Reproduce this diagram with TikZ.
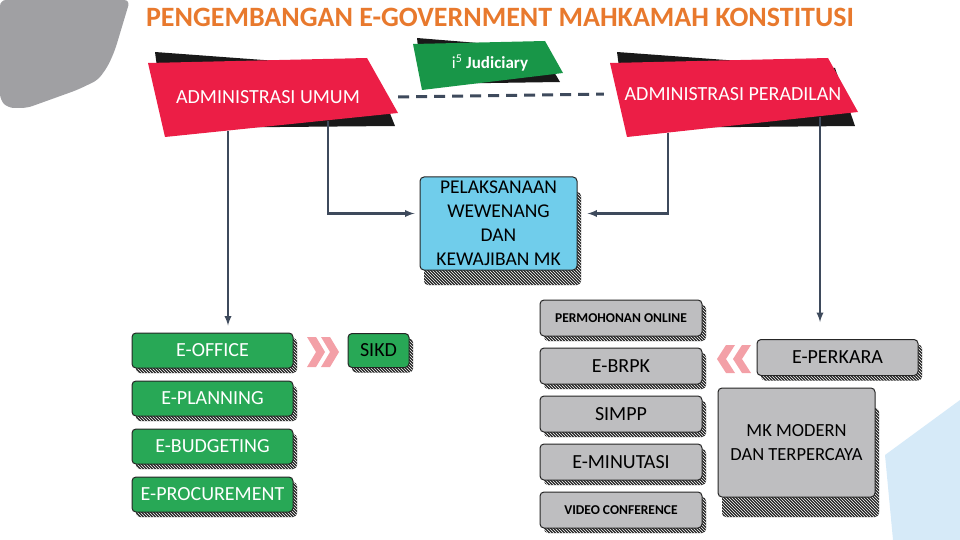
\documentclass[tikz,border=0pt]{standalone}
\usepackage{fontspec}
\setmainfont{Carlito}
\usetikzlibrary{positioning, arrows.meta, patterns}

\definecolor{titleorange}{RGB}{232,121,45}
\definecolor{bannerred}{RGB}{236,30,70}
\definecolor{bannergreen}{RGB}{24,150,72}
\definecolor{boxgreen}{RGB}{40,168,86}
\definecolor{boxblue}{RGB}{112,205,235}
\definecolor{boxgray}{RGB}{190,190,192}
\definecolor{connslate}{RGB}{62,74,92}
\definecolor{chevpink}{RGB}{238,120,130}
\definecolor{cornergray}{RGB}{160,160,163}
\definecolor{skyblue}{RGB}{214,234,248}

\begin{document}
\begin{tikzpicture}[x=1pt, y=-1pt,
    slab/.style={rectangle, rounded corners=4pt, draw=black!85, line width=1pt, inner sep=2pt,
        preaction={fill=black!85, transform canvas={xshift=4pt, yshift=-#1}},
        preaction={pattern=north west lines, pattern color=white, transform canvas={xshift=4pt, yshift=-#1}}},
    slab/.default=5pt,
    gbox/.style={slab, fill=boxgreen, text=white, minimum width=161pt, minimum height=35pt, font=\fontsize{20}{22}\selectfont},
    graybox/.style={slab=#1, fill=boxgray, minimum width=162pt, minimum height=36pt, font=\fontsize{20}{22}\selectfont},
    graybox/.default=5pt,
    banner/.style={text=white, minimum height=70pt, inner sep=0pt, font=\fontsize{20}{22}\selectfont},
    conn/.style={-latex, draw=connslate, line width=2.2pt},
    dashline/.style={draw=connslate, line width=3pt, dash pattern=on 11pt off 7pt},
    chev/.style={fill=chevpink, opacity=0.7},
    ]
    \useasboundingbox (0,0) rectangle (960,540);

    % Backdrop shapes.
    \fill[cornergray, rounded corners=6pt] (0,0) -- (130,0) -- (115,50) -- (108,66) -- (98,80) -- (77,90) -- (27,108) -- (8,108) -- (0,100) -- cycle;
    \fill[skyblue] (885,455) -- (960,400) -- (960,540) -- (893,540) -- cycle;

    \node[font=\bfseries\fontsize{28}{28}\selectfont, text=titleorange] (title) at (500,17) {PENGEMBANGAN E-GOVERNMENT MAHKAMAH KONSTITUSI};

    % Banners.
    \fill[black!90] (155,52) -- (372,68) -- (395,126) -- (165,128) -- cycle;
    \fill[bannerred] (148,63) -- (367,58) -- (398,113) -- (165,137) -- cycle;
    \fill[black!90] (617,52) -- (835,68) -- (855,126) -- (627,128) -- cycle;
    \fill[bannerred] (610,63) -- (828,58) -- (858,112) -- (627,137) -- cycle;
    \fill[black!90] (417,38) -- (540,48) -- (560,82) -- (422,84) -- cycle;
    \fill[bannergreen] (413,44) -- (545,41) -- (563,73) -- (422,90) -- cycle;

    \node[banner, minimum width=260pt] (umum) at (268,97) {ADMINISTRASI UMUM};
    \node[banner, minimum width=242pt] (peradilan) at (733,94) {ADMINISTRASI PERADILAN};
    \node[text=white, font=\fontsize{17}{17}\selectfont] (judiciary) at (490,63) {i\textsuperscript{5} \textbf{Judiciary}};

    \draw[dashline, shorten >=8pt] (umum.east) -- (peradilan.west);

    % Centre box.
    \node[slab=15pt, fill=boxblue, minimum width=157pt, minimum height=93pt, align=center, font=\fontsize{19.5}{24}\selectfont] (pelaksanaan) at (498.5,223.5) {PELAKSANAAN\\WEWENANG\\DAN\\KEWAJIBAN MK};

    % General administration stack.
    \node[gbox] (eoffice) at (212.5,350.5) {E-OFFICE};
    \node[gbox, below=12pt of eoffice] (eplanning) {E-PLANNING};
    \node[gbox, below=12pt of eplanning] (ebudgeting) {E-BUDGETING};
    \node[gbox, below=12pt of ebudgeting] (eprocurement) {E-PROCUREMENT};
    \node[gbox, text=black, minimum width=61pt, minimum height=34pt, right=54pt of eoffice] (sikd) {SIKD};

    % Court administration stack.
    \node[graybox, font=\bfseries\fontsize{13.5}{15}\selectfont] (permohonan) at (621,318) {PERMOHONAN ONLINE};
    \node[graybox, below=11pt of permohonan] (ebrpk) {E-BRPK};
    \node[graybox, below=11pt of ebrpk] (simpp) {SIMPP};
    \node[graybox, below=11pt of simpp] (eminutasi) {E-MINUTASI};
    \node[graybox, below=11pt of eminutasi, font=\bfseries\fontsize{13.5}{15}\selectfont] (video) {VIDEO CONFERENCE};
    \node[graybox, minimum width=161pt] (eperkara) at (837.5,357.5) {E-PERKARA};
    \node[graybox=20pt, minimum width=157pt, minimum height=109pt, align=center, font=\fontsize{18.5}{24}\selectfont] (mkmodern) at (796.5,442.5) {MK MODERN\\DAN TERPERCAYA};

    % Chevrons.
    \foreach \cx in {307,321}
        \fill[chev] (\cx,337) -- ++(9,0) -- ++(9,15) -- ++(-9,15) -- ++(-9,0) -- ++(9,-15) -- cycle;
    \foreach \cx in {717,733}
        \fill[chev] (\cx,359) -- ++(9,-14) -- ++(9,0) -- ++(-9,14) -- ++(9,14) -- ++(-9,0) -- cycle;

    % Connectors.
    \coordinate (umum_l) at (228,131);
    \coordinate (umum_r) at (328,121);
    \coordinate (perad_l) at (668,133);
    \coordinate (perad_r) at (820,117);
    \draw[conn, shorten >=7pt] (umum_l) -- (umum_l |- eoffice.north);
    \draw[conn, shorten >=5pt] (umum_r) |- ([yshift=10pt]pelaksanaan.west);
    \draw[conn, shorten >=10pt] (perad_l) |- ([yshift=10pt]pelaksanaan.east);
    \draw[conn, shorten >=17pt] (perad_r) -- (perad_r |- eperkara.north);

\end{tikzpicture}
\end{document}
